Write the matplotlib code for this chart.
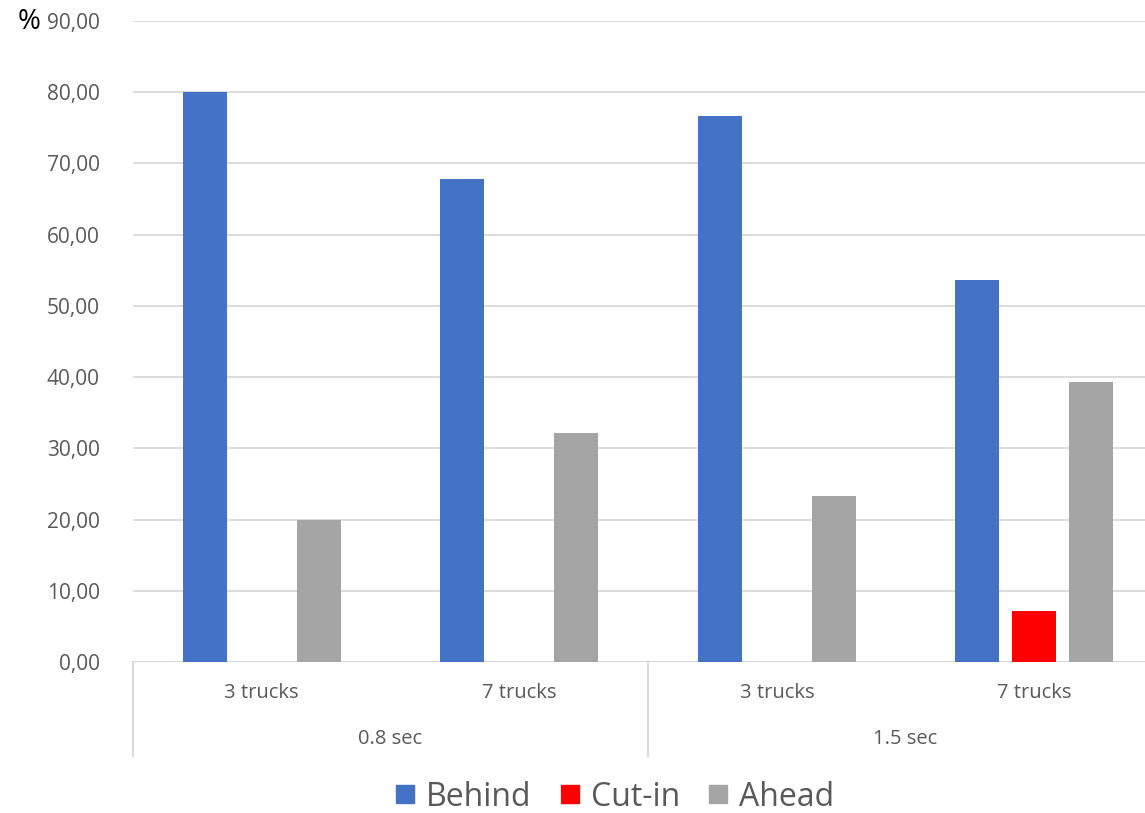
import numpy as np
import matplotlib.pyplot as plt
from matplotlib.lines import Line2D
from matplotlib.transforms import blended_transform_factory

plt.rcParams['font.family'] = ['Open Sans', 'DejaVu Sans']

# headway groups and platoon sizes
groups = ["0.8 sec", "1.5 sec"]
sizes = ["3 trucks", "7 trucks", "3 trucks", "7 trucks"]

series = ["Behind", "Cut-in", "Ahead"]
behind = [80.00, 67.86, 76.67, 53.57]
cut_in = [0.00, 0.00, 0.00, 7.14]
ahead = [20.00, 32.14, 23.33, 39.29]
colors = ["#4472C4", "#FF0000", "#A5A5A5"]

GRID = "#D9D9D9"
TXT = "#595959"

fig = plt.figure(figsize=(11.45, 8.13), dpi=100)
ax = fig.add_axes([0.1162, 0.1857, 0.8996, 0.7885])

x = np.arange(len(sizes)) + 0.5
width = 0.171
step = 0.221
for i, (vals, col) in enumerate(zip([behind, cut_in, ahead], colors)):
    ax.bar(x + (i - 1) * step, vals, width, color=col, zorder=3)

ax.set_xlim(0, len(sizes))
ax.set_ylim(0, 90)
ax.set_yticks(np.arange(0, 91, 10))
ax.set_yticklabels([f"{v:.2f}".replace(".", ",") for v in np.arange(0, 91, 10)])
ax.tick_params(axis="y", length=0, pad=24, labelsize=15, labelcolor=TXT)
ax.set_xticks([])
ax.grid(axis="y", color=GRID, linewidth=1.3, zorder=0)
for s in ax.spines.values():
    s.set_visible(False)
ax.axhline(0, color=GRID, linewidth=1.5, zorder=2)

# two-level category axis
tr = blended_transform_factory(ax.transData, ax.transAxes)
for xi, lab in zip(x, sizes):
    ax.text(xi, -0.048, lab, transform=tr, ha="center", va="center",
            fontsize=14.5, color=TXT)
for gi, g in enumerate(groups):
    ax.text(gi * 2 + 1, -0.12, g, transform=tr, ha="center", va="center",
            fontsize=14.5, color=TXT)
for xs in [0, 2, 4]:
    ax.plot([xs, xs], [0, -0.147], transform=tr, color=GRID, linewidth=1.5,
            clip_on=False)

fig.text(18 / 1145, 1 - 22 / 813, "%", fontsize=20, color="black",
         ha="left", va="center")

handles = [Line2D([], [], marker="s", linestyle="", markersize=13.5, color=c)
           for c in colors]
fig.legend(handles, series, loc="center", bbox_to_anchor=(615 / 1145, 1 - 797 / 813),
           ncol=3, frameon=False, fontsize=23, labelcolor=TXT,
           handlelength=0.6, handletextpad=0.35, columnspacing=0.9)

fig.savefig("out.png", dpi=100)
